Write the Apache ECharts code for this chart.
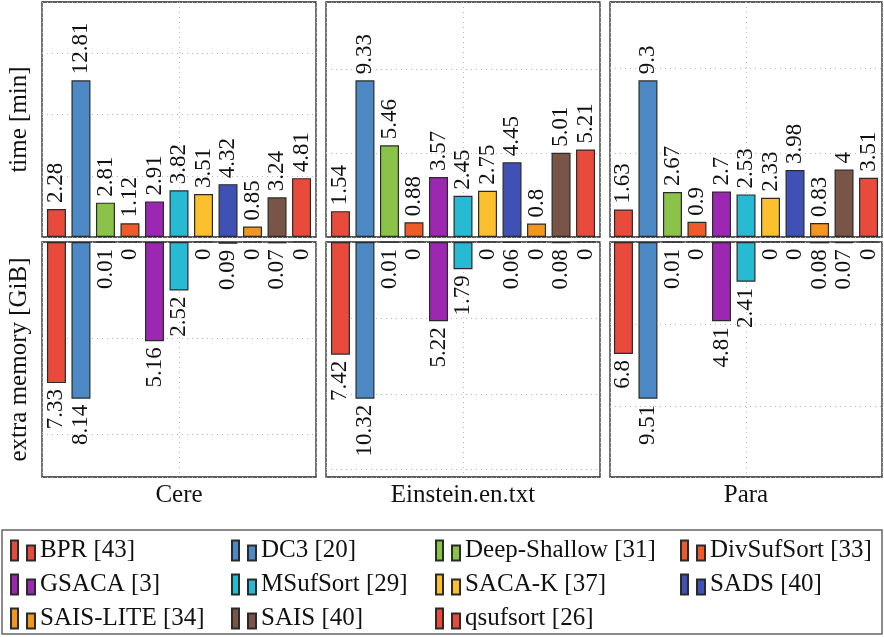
<!DOCTYPE html>
<html><head><meta charset="utf-8">
<script src="https://cdn.jsdelivr.net/npm/echarts@6/dist/echarts.min.js"></script>
<style>html,body{margin:0;padding:0;background:#fff}#c{width:884px;height:637px}</style>
</head><body><div id="c"></div>
<script>
const methods = ['BPR [43]','DC3 [20]','Deep-Shallow [31]','DivSufSort [33]','GSACA [3]','MSufSort [29]','SACA-K [37]','SADS [40]','SAIS-LITE [34]','SAIS [40]','qsufsort [26]'];
const colors = ['#E84A3C','#4C89C5','#8BC34A','#EF5A2B','#9C27B0','#27BBD3','#FBC02D','#3F51B5','#F39521','#795548','#E84A3C'];
const datasets = ['Cere','Einstein.en.txt','Para'];
const timeCere = [2.28,12.81,2.81,1.12,2.91,3.82,3.51,4.32,0.85,3.24,4.81];
const timeEinstein = [1.54,9.33,5.46,0.88,3.57,2.45,2.75,4.45,0.8,5.01,5.21];
const timePara = [1.63,9.3,2.67,0.9,2.7,2.53,2.33,3.98,0.83,4,3.51];
const memCere = [7.33,8.14,0.01,0,5.16,2.52,0,0.09,0,0.07,0];
const memEinstein = [7.42,10.32,0.01,0,5.22,1.79,0,0.06,0,0.08,0];
const memPara = [6.8,9.51,0.01,0,4.81,2.41,0,0,0.08,0.07,0];
const yTitles = ['time [min]','extra memory [GiB]'];
const legendCols = [[0,4,8],[1,5,9],[2,6,10],[3,7]];

const timeData = [timeCere, timeEinstein, timePara];
const memData = [memCere, memEinstein, memPara];
const FONT = "'Liberation Serif', 'Times New Roman', serif";
const lefts = [42, 326, 610];
const widths = [274, 274, 272];

const grid = [], xAxis = [], yAxis = [], series = [];
for (let p = 0; p < 3; p++) {
  for (let part = 0; part < 2; part++) {
    const gi = p * 2 + part;
    const vals = part === 0 ? timeData[p] : memData[p];
    grid.push({left: lefts[p], width: widths[p], top: part === 0 ? 2 : 242, height: 235,
      show: true, borderColor: '#2a2a2a', borderWidth: 1.3, backgroundColor: '#fff'});
    xAxis.push({type: 'category', gridIndex: gi, data: [datasets[p]], position: 'bottom',
      axisLine: {show: false, onZero: false}, axisTick: {show: false}, splitLine: {show: false},
      axisLabel: {show: part === 1, fontFamily: FONT, fontSize: 25, color: '#111', margin: 6}});
    xAxis.push({type: 'value', gridIndex: gi, min: 0, max: 2, interval: 1, position: 'top',
      axisLine: {show: false}, axisTick: {show: false}, axisLabel: {show: false},
      splitLine: {show: true, lineStyle: {color: '#b8b8b8', type: [1, 4], width: 1}}});
    const vmax = Math.max.apply(null, vals) * 1.5;
    yAxis.push({type: 'value', gridIndex: gi, min: 0, max: vmax, interval: 5, inverse: part === 1,
      axisLine: {show: false}, axisTick: {show: false}, axisLabel: {show: false},
      splitLine: {show: true, lineStyle: {color: '#b8b8b8', type: [1, 4], width: 1}},
      name: p === 0 ? yTitles[part] : '', nameLocation: 'middle', nameRotate: 90, nameGap: 10,
      nameTextStyle: {fontFamily: FONT, fontSize: 25, color: '#111'}});
    for (let i = 0; i < methods.length; i++) {
      series.push({
        type: 'bar', name: methods[i], xAxisIndex: gi * 2, yAxisIndex: gi,
        data: [vals[i]], barWidth: 19, barGap: '29%', z: 3,
        itemStyle: {color: colors[i], borderColor: '#2a2a2a', borderWidth: 1.2},
        label: {show: true, position: part === 0 ? 'top' : 'bottom', rotate: 90,
          align: part === 0 ? 'left' : 'right', verticalAlign: 'middle', distance: 6,
          fontFamily: FONT, fontSize: 23, color: '#111',
          formatter: (prm) => String(prm.value)},
        animation: false
      });
    }
  }
}

const legendLefts = [10, 231, 435, 680];
const iconPath = 'path://M0,0 L7,0 L7,20 L0,20 Z M16,5 L24,5 L24,20 L16,20 Z';
const legend = legendCols.map((col, k) => ({
  orient: 'vertical', left: legendLefts[k], top: 538, padding: 0, itemGap: 9,
  itemWidth: 24, itemHeight: 20, selectedMode: false, icon: iconPath,
  data: col.map(i => methods[i]),
  textStyle: {fontFamily: FONT, fontSize: 25, color: '#111', lineHeight: 24}
}));

const chart = echarts.init(document.getElementById('c'), null, {renderer: 'canvas'});
chart.setOption({
  animation: false,
  backgroundColor: '#fff',
  grid, xAxis, yAxis, series, legend,
  graphic: [{type: 'rect', shape: {x: 2, y: 530, width: 880, height: 104}, z: -1,
    style: {fill: 'none', stroke: '#666', lineWidth: 1.5}}]
});
</script></body></html>
